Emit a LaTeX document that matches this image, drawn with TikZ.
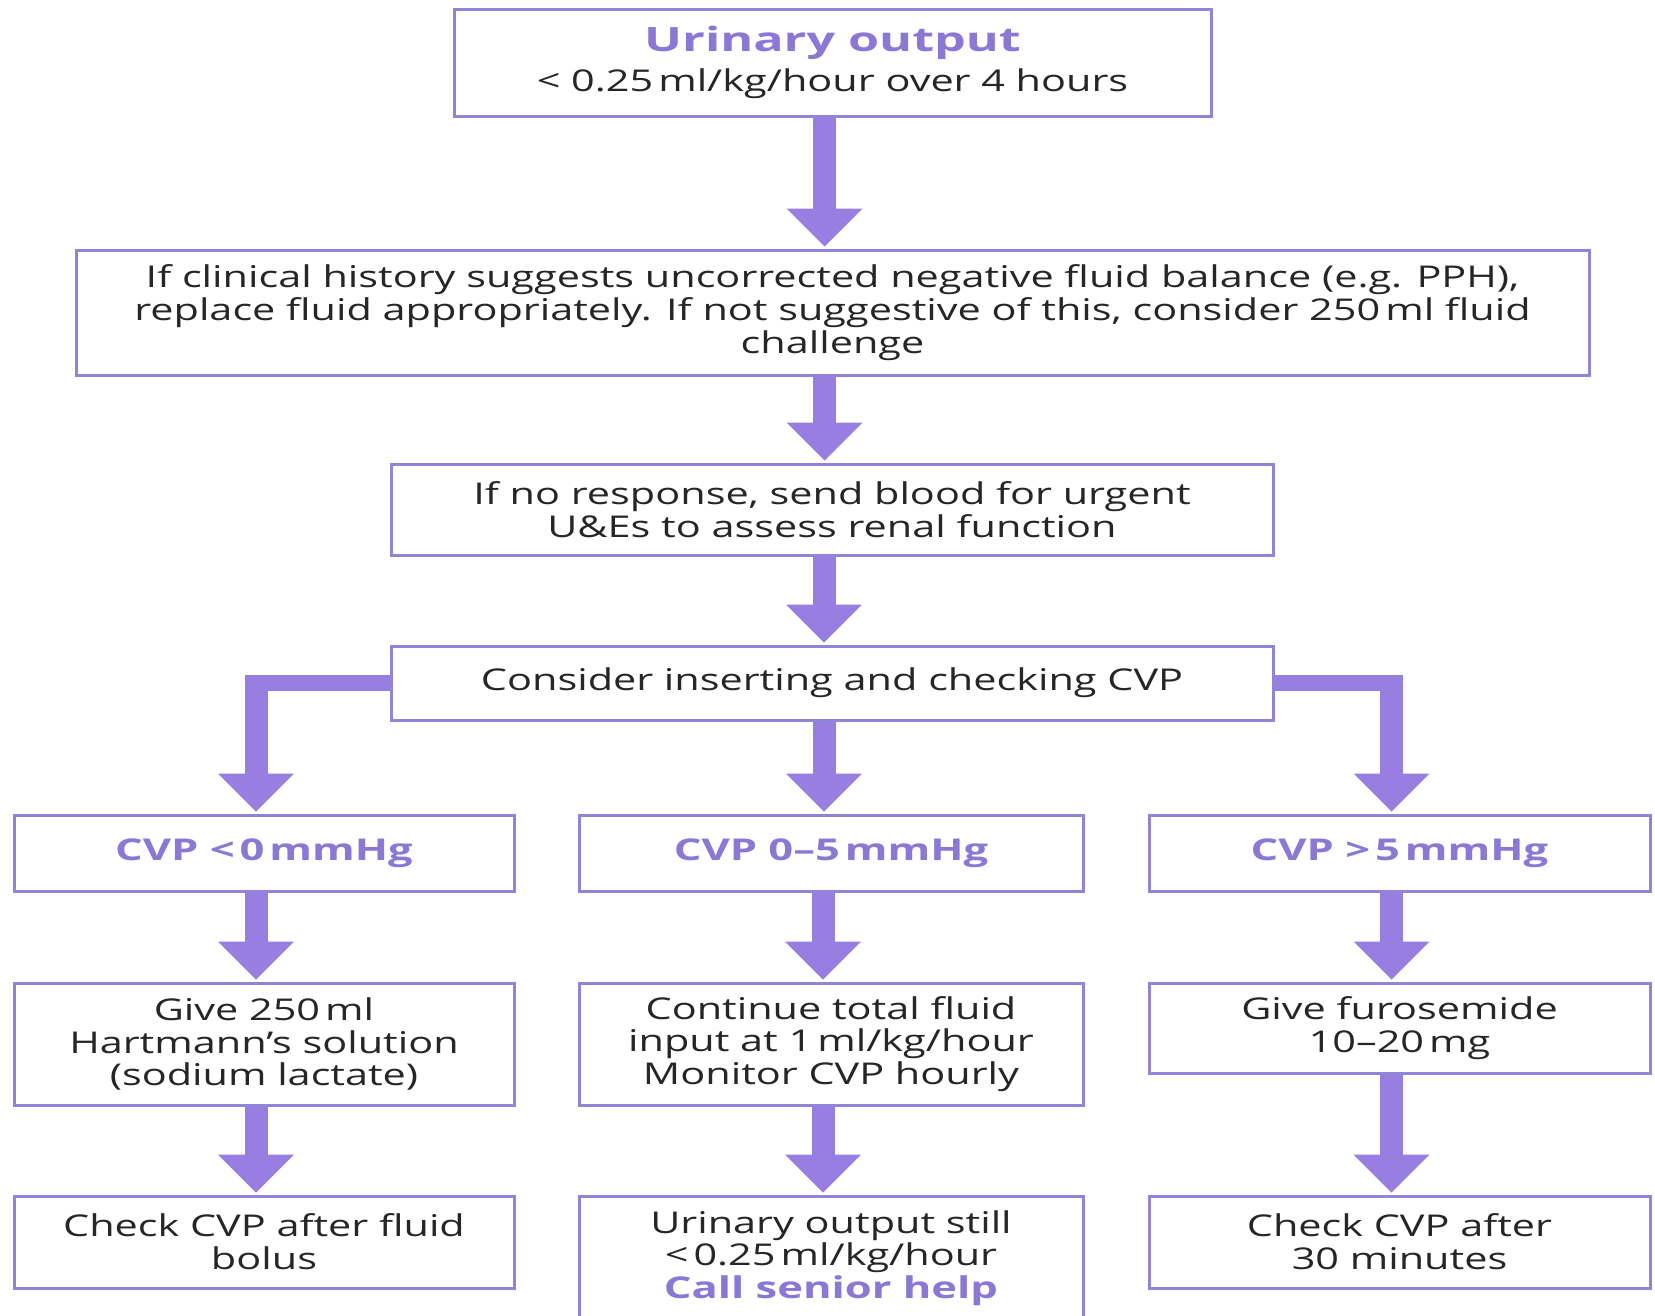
\documentclass[tikz,border=0pt]{standalone}
\usepackage{fontspec}
\setmainfont{Open Sans}[FakeStretch=1.38]
\newfontfamily\hlfont{Open Sans}[FakeStretch=1.45]
\newfontfamily\hlbigfont{Open Sans}[FakeStretch=1.5]
\usetikzlibrary{arrows.meta}
\definecolor{arrc}{RGB}{152,126,224}
\definecolor{bordc}{RGB}{146,132,218}
\definecolor{txtc}{RGB}{138,120,212}
\tikzset{
  box/.style={draw=bordc, line width=3pt, fill=white, inner sep=0pt, align=center,
    font=\fontsize{30}{32.7}\selectfont, text=black!85},
  arr/.style={draw=arrc, line width=23pt, line cap=butt,
    -{Triangle[width=76pt,length=38pt,line width=0pt]}, shorten >=2pt},
  hbar/.style={draw=arrc, line width=16pt, line cap=butt}
}
\newcommand{\hlt}[1]{{\color{txtc}\hlfont\bfseries\fontsize{30}{32.7}\selectfont #1}}
\newcommand{\hltbig}[1]{{\color{txtc}\hlbigfont\bfseries\fontsize{33.5}{34}\selectfont #1}}
\begin{document}
\begin{tikzpicture}[x=1pt,y=-1pt]
\clip (0,0) rectangle (1655,1315);
\fill[white] (0,0) rectangle (1655,1315);
% nodes
\node[box, minimum width=757pt, minimum height=107pt] (top) at (832.5,62.5)
  {\hltbig{Urinary output}\\[7pt] < 0.25\,ml/kg/hour over 4 hours};
\node[box, minimum width=1513pt, minimum height=125pt] (b2) at (832.5,312.5)
  {If clinical history suggests uncorrected negative fluid balance (e.g. PPH),\\
   replace fluid appropriately. If not suggestive of this, consider 250\,ml fluid\\
   challenge};
\node[box, minimum width=882pt, minimum height=91pt] (b3) at (832,509.5)
  {If no response, send blood for urgent\\ U\&Es to assess renal function};
\node[box, minimum width=882pt, minimum height=74pt] (b4) at (832,683)
  {Consider inserting and checking CVP};
\node[box, minimum width=500pt, minimum height=76pt] (c1) at (264,853)
  {\hlt{CVP <\,0\,mmHg}};
\node[box, minimum width=504pt, minimum height=76pt] (c2) at (831,853)
  {\hlt{CVP 0–5\,mmHg}};
\node[box, minimum width=501pt, minimum height=76pt] (c3) at (1399.5,853)
  {\hlt{CVP >\,5\,mmHg}};
\node[box, minimum width=500pt, minimum height=122pt] (g1) at (264,1044)
  {Give 250\,ml\\ Hartmann’s solution\\ (sodium lactate)};
\node[box, minimum width=504pt, minimum height=122pt] (g2) at (831,1044)
  {Continue total fluid\\ input at 1\,ml/kg/hour\\ Monitor CVP hourly};
\node[box, minimum width=501pt, minimum height=90pt] (g3) at (1399.5,1028)
  {Give furosemide\\ 10–20\,mg};
\node[box, minimum width=500pt, minimum height=92pt] (k1) at (264,1242)
  {Check CVP after fluid\\ bolus};
\node[box, minimum width=504pt, minimum height=124pt] (k2) at (831,1258)
  {Urinary output still\\ <\,0.25\,ml/kg/hour\\ \hlt{Call senior help}};
\node[box, minimum width=501pt, minimum height=92pt] (k3) at (1399.5,1242)
  {Check CVP after\\ 30 minutes};
% connectors
\draw[arr] ([xshift=-8pt]top.south) -- ([xshift=-8pt]top.south |- b2.north);
\draw[arr] ([xshift=-8pt]b2.south) -- ([xshift=-8pt]b2.south |- b3.north);
\draw[arr] ([xshift=-8pt]b3.south) -- ([xshift=-8pt]b3.south |- b4.north);
\draw[arr] ([xshift=-8pt]b4.south) -- ([xshift=-8pt]b4.south |- c2.north);
\coordinate (lcorner) at ([xshift=-8pt]c1.north |- b4.west);
\coordinate (rcorner) at ([xshift=-8pt]c3.north |- b4.east);
\draw[hbar] (b4.west) -- ([xshift=-11.5pt]lcorner);
\draw[arr] ([yshift=8pt]lcorner) -- ([xshift=-8pt]c1.north);
\draw[hbar] (b4.east) -- ([xshift=11.5pt]rcorner);
\draw[arr] ([yshift=8pt]rcorner) -- ([xshift=-8pt]c3.north);
\draw[arr] ([xshift=-8pt]c1.south) -- ([xshift=-8pt]c1.south |- g1.north);
\draw[arr] ([xshift=-8pt]c2.south) -- ([xshift=-8pt]c2.south |- g2.north);
\draw[arr] ([xshift=-8pt]c3.south) -- ([xshift=-8pt]c3.south |- g3.north);
\draw[arr] ([xshift=-8pt]g1.south) -- ([xshift=-8pt]g1.south |- k1.north);
\draw[arr] ([xshift=-8pt]g2.south) -- ([xshift=-8pt]g2.south |- k2.north);
\draw[arr] ([xshift=-8pt]g3.south) -- ([xshift=-8pt]g3.south |- k3.north);
\end{tikzpicture}
\end{document}
